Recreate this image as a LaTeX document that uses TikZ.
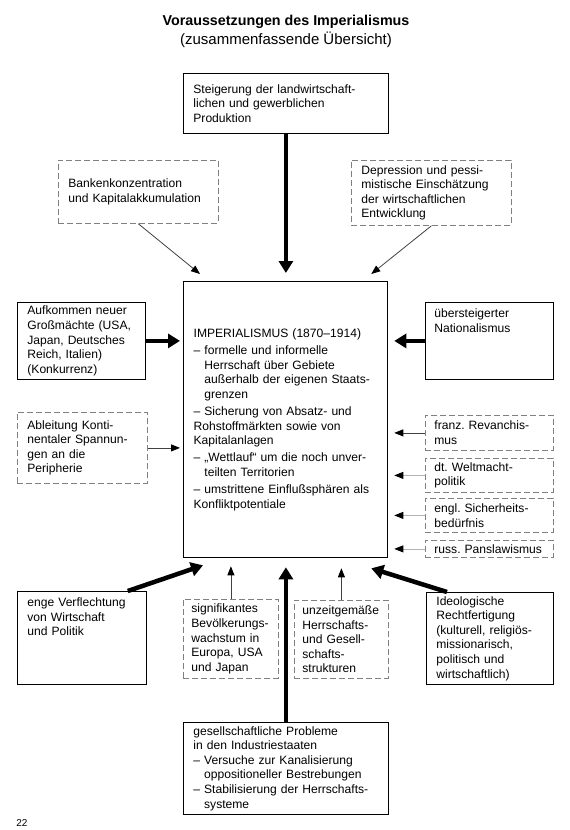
\documentclass[tikz,border=0pt]{standalone}
\usepackage{fontspec}
\setmainfont{Liberation Sans}
\usetikzlibrary{arrows.meta, positioning, calc}

\newcommand{\boxfont}{\fontsize{12.1}{14.6}\selectfont\frenchspacing}
\newcommand{\dashind}{\hphantom{–\ }}

\begin{document}
\begin{tikzpicture}[
            x=1pt, y=-1pt,
            % solid and dashed frames
            box/.style={
                draw, rectangle,
                anchor=north west,
                align=left,
                line width=0.8pt,
                inner xsep=10pt, inner ysep=3pt,
                font=\boxfont
            },
            dbox/.style={box, draw=black!50, dash pattern=on 6pt off 3pt},
            sidebox/.style={dbox, minimum width=128pt, inner xsep=9pt, text width=110pt},
            % arrows
            bigarrow/.style={line width=4.5pt, -{Triangle[length=12pt, width=14pt]}},
            smallarrow/.style={line width=0.8pt, draw=black!75, -{Triangle[length=9pt, width=7pt, color=black]}},
            lightarrow/.style={smallarrow, draw=black!30}
        ]
        \useasboundingbox (0,0) rectangle (570,830);

        % Title
        \node[font=\fontsize{14.3}{17}\selectfont\bfseries] (title) at (286,22) {Voraussetzungen des Imperialismus};
        \node[font=\fontsize{15}{17}\selectfont] (subtitle) at (286,40) {(zusammenfassende Übersicht)};

        % Imperialism (center)
        \node[box, line width=1.3pt, minimum width=204pt, minimum height=276pt, text width=184pt] (imp) at (183,281) {IMPERIALISMUS (1870–1914)\\[2.6pt]
            – formelle und informelle\\
            \dashind Herrschaft über Gebiete\\
            \dashind außerhalb der eigenen Staats-\\
            \dashind grenzen\\[2.6pt]
            – Sicherung von Absatz- und\\
            Rohstoffmärkten sowie von\\
            Kapitalanlagen\\[2.6pt]
            – „Wettlauf“ um die noch unver-\\
            \dashind teilten Territorien\\[2.6pt]
            – umstrittene Einflußsphären als\\
            Konfliktpotentiale};

        % Upper causes
        \node[box, minimum width=205pt, minimum height=60pt, text width=185pt] (prod) at (183,73) {Steigerung der landwirtschaft-\\lichen und gewerblichen\\Produktion};
        \node[dbox, minimum width=160pt, minimum height=63pt, text width=140pt] (bank) at (58,160) {Bankenkonzentration\\und Kapitalakkumulation};
        \node[dbox, minimum width=160pt, minimum height=65pt, text width=140pt] (depr) at (351,160) {Depression und pessi-\\mistische Einschätzung\\der wirtschaftlichen\\Entwicklung};

        % Left causes
        \node[box, minimum width=128pt, minimum height=77pt, text width=108pt] (powers) at (17,302) {Aufkommen neuer\\Großmächte (USA,\\Japan, Deutsches\\Reich, Italien)\\(Konkurrenz)};
        \node[dbox, minimum width=130pt, minimum height=71pt, text width=110pt] (tension) at (17,412) {Ableitung Konti-\\nentaler Spannun-\\gen an die\\Peripherie};

        % Right causes
        \node[box, minimum width=128pt, minimum height=77pt, inner xsep=9pt, text width=110pt, inner ysep=5pt, text depth=56.8pt] (nation) at (425,302) {\strut übersteigerter\\Nationalismus};
        \node[sidebox, minimum height=35pt] (revanche) at (425,415) {franz. Revanchis-\\mus};
        \node[sidebox, minimum height=34pt] (weltmacht) at (425,458) {dt. Weltmacht-\\politik};
        \node[sidebox, minimum height=34pt] (safety) at (425,498) {engl. Sicherheits-\\bedürfnis};
        \node[sidebox, minimum height=17pt, inner ysep=1pt] (panslav) at (425,540) {russ. Panslawismus};

        % Lower causes
        \node[box, minimum width=129pt, minimum height=93pt, text width=109pt, inner ysep=5pt, text depth=72.8pt] (economy) at (17,591) {\strut enge Verflechtung\\von Wirtschaft\\und Politik};
        \node[dbox, minimum width=95pt, minimum height=79pt, inner xsep=8pt, text width=79pt] (growth) at (183,599) {signifikantes\\Bevölkerungs-\\wachstum in\\Europa, USA\\und Japan};
        \node[dbox, minimum width=94pt, minimum height=78pt, inner xsep=8pt, text width=78pt] (structure) at (294,600) {unzeitgemäße\\Herrschafts-\\und Gesell-\\schafts-\\strukturen};
        \node[box, minimum width=127pt, minimum height=92pt, text width=107pt] (ideology) at (426,592) {Ideologische\\Rechtfertigung\\(kulturell, religiös-\\missionarisch,\\politisch und\\wirtschaftlich)};
        \node[box, minimum width=205pt, minimum height=92pt, text width=185pt] (society) at (183,722) {gesellschaftliche Probleme\\in den Industriestaaten\\
            – Versuche zur Kanalisierung\\
            \dashind oppositioneller Bestrebungen\\
            – Stabilisierung der Herrschafts-\\
            \dashind systeme};

        % Page number
        \node[font=\fontsize{10}{12}\selectfont] (page) at (22,823) {22};

        % Thick arrows
        \draw[bigarrow, shorten >=8pt] (prod.south) -- (prod.south |- imp.north);
        \draw[bigarrow, shorten >=3pt] (powers.east) -- (powers.east -| imp.west);
        \draw[bigarrow, shorten >=6pt] (nation.west) -- (nation.west -| imp.east);
        \draw[bigarrow, shorten >=9pt] (society.north) -- (society.north |- imp.south);
        \draw[bigarrow] ($(economy.north east)+(-19,0)$) -- ($(imp.south west)+(20,7)$);
        \draw[bigarrow] ($(ideology.north west)+(21,0)$) -- ($(imp.south east)+(-17,10)$);

        % Thin arrows
        \draw[smallarrow] (bank.south) -- ($(imp.north west)+(17,-7)$);
        \draw[smallarrow] (depr.south) -- ($(imp.north east)+(-17,-7)$);
        \draw[smallarrow, shorten >=3pt] (tension.east) -- (tension.east -| imp.west);
        \draw[smallarrow, shorten >=6pt] (revanche.west) -- (revanche.west -| imp.east);
        \draw[lightarrow, shorten >=6pt] (weltmacht.west) -- (weltmacht.west -| imp.east);
        \draw[lightarrow, shorten >=6pt] (safety.west) -- (safety.west -| imp.east);
        \draw[lightarrow, shorten >=6pt] (panslav.west) -- (panslav.west -| imp.east);
        \draw[smallarrow, shorten >=8pt] (growth.north) -- (growth.north |- imp.south);
        \draw[smallarrow, shorten >=10pt] (structure.north) -- (structure.north |- imp.south);

        \end{tikzpicture}
\end{document}
